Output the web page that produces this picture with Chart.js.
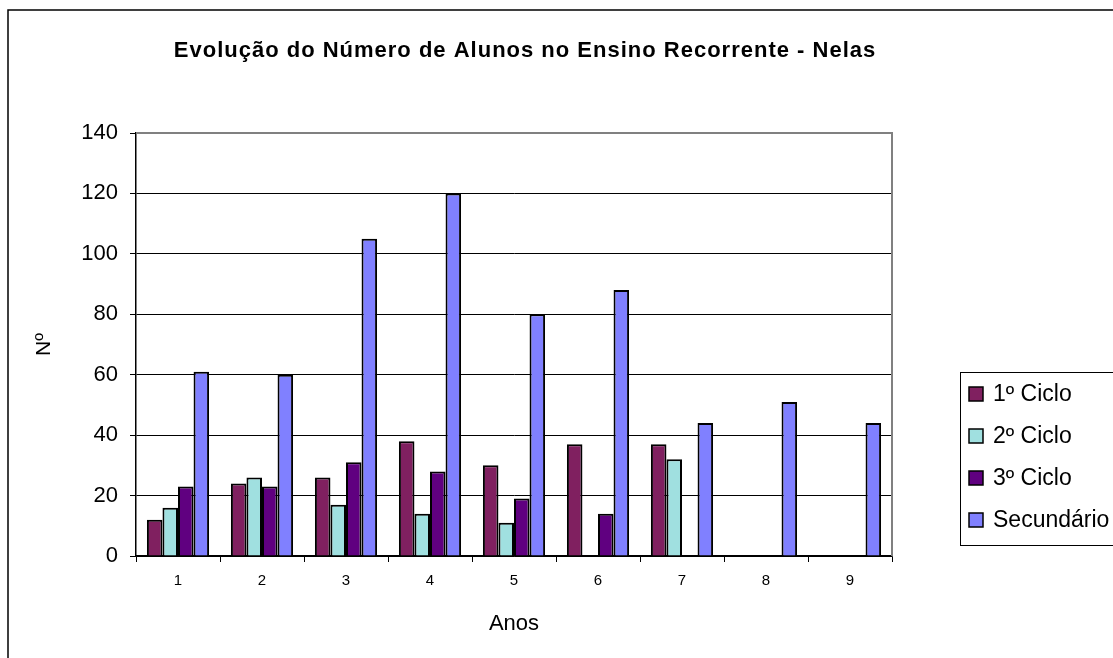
<!DOCTYPE html>
<html>
<head>
<meta charset="utf-8">
<script src="https://cdn.jsdelivr.net/npm/chart.js@4.4.1/dist/chart.umd.min.js"></script>
<style>
  html, body { margin: 0; padding: 0; background: #fff; }
  #wrap { width: 1113px; height: 658px; position: relative; }
</style>
</head>
<body>
<div id="wrap"><canvas id="chart" width="1113" height="658"></canvas></div>
<script>
const anos = ['1', '2', '3', '4', '5', '6', '7', '8', '9'];
const ciclo1 = [12, 24, 26, 38, 30, 37, 37, null, null];
const ciclo2 = [16, 26, 17, 14, 11, null, 32, null, null];
const ciclo3 = [23, 23, 31, 28, 19, 14, null, null, null];
const secundario = [61, 60, 105, 120, 80, 88, 44, 51, 44];
const yTicks = [0, 20, 40, 60, 80, 100, 120, 140];

const titulo = 'Evolução do Número de Alunos no Ensino Recorrente - Nelas';

// frame, plot border, title and legend drawn on top of the chart
const extras = {
  id: 'extras',
  afterDraw(chart) {
    const ctx = chart.ctx;
    const a = chart.chartArea;
    ctx.save();
    // outer chart border (runs off the picture on the right and bottom)
    ctx.strokeStyle = '#000';
    ctx.lineWidth = 1.5;
    ctx.strokeRect(8, 10, 1300, 800);
    // grey plot border top and right
    ctx.strokeStyle = '#808080';
    ctx.lineWidth = 2;
    ctx.beginPath();
    ctx.moveTo(a.left, a.top);
    ctx.lineTo(a.right, a.top);
    ctx.lineTo(a.right, a.bottom);
    ctx.stroke();
    // title
    ctx.fillStyle = '#000';
    ctx.font = 'bold 22px Arial, "Liberation Sans", sans-serif';
    ctx.letterSpacing = '1px';
    ctx.textAlign = 'center';
    ctx.textBaseline = 'middle';
    ctx.fillText(titulo, 525, 51);
    ctx.letterSpacing = '0px';
    // legend
    const lx = 960, ly = 372;
    ctx.strokeStyle = '#000';
    ctx.lineWidth = 1;
    ctx.strokeRect(lx + 0.5, ly + 0.5, 300, 173);
    ctx.font = '23px Arial, "Liberation Sans", sans-serif';
    ctx.textAlign = 'left';
    chart.data.datasets.forEach((ds, i) => {
      const cy = 394 + i * 42;
      ctx.fillStyle = ds.backgroundColor;
      ctx.fillRect(969, cy - 7, 14, 14);
      ctx.strokeStyle = '#000';
      ctx.lineWidth = 1.5;
      ctx.strokeRect(969, cy - 7, 14, 14);
      ctx.fillStyle = '#000';
      ctx.fillText(ds.label, 993, cy + 1);
    });
    ctx.restore();
  }
};

function serie(label, data, cor) {
  return {
    label: label,
    data: data,
    backgroundColor: cor,
    borderColor: '#000',
    borderWidth: 2,
    barPercentage: 1,
    categoryPercentage: 0.74
  };
}

new Chart(document.getElementById('chart'), {
  type: 'bar',
  data: {
    labels: anos,
    datasets: [
      serie('1º Ciclo', ciclo1, '#802060'),
      serie('2º Ciclo', ciclo2, '#A0E0E0'),
      serie('3º Ciclo', ciclo3, '#600080'),
      serie('Secundário', secundario, '#8080FF')
    ]
  },
  options: {
    responsive: false,
    animation: false,
    layout: { padding: { left: 8, top: 133, right: 221, bottom: 0 } },
    scales: {
      y: {
        min: 0,
        max: 140,
        afterBuildTicks(scale) { scale.ticks = yTicks.map(v => ({ value: v })); },
        afterFit(scale) { scale.width = 128; },
        ticks: {
          color: '#000',
          padding: 12,
          font: { family: 'Arial, "Liberation Sans", sans-serif', size: 22 }
        },
        grid: { color: '#000', lineWidth: 1, tickLength: 6 },
        border: { color: '#000', width: 1.5 },
        title: {
          display: true,
          text: 'Nº',
          color: '#000',
          padding: { top: 24, bottom: 0 },
          font: { family: 'Arial, "Liberation Sans", sans-serif', size: 21 }
        }
      },
      x: {
        afterFit(scale) { scale.height = 102; },
        ticks: {
          color: '#000',
          padding: 10,
          maxRotation: 0,
          font: { family: 'Arial, "Liberation Sans", sans-serif', size: 15 }
        },
        grid: { drawOnChartArea: false, color: '#000', tickLength: 6, offset: true },
        border: { color: '#000', width: 1.5 },
        title: {
          display: true,
          text: 'Anos',
          color: '#000',
          padding: { top: 21, bottom: 21 },
          font: { family: 'Arial, "Liberation Sans", sans-serif', size: 22 }
        }
      }
    },
    plugins: {
      legend: { display: false },
      title: { display: false },
      tooltip: { enabled: false }
    }
  },
  plugins: [extras]
});
</script>
</body>
</html>
